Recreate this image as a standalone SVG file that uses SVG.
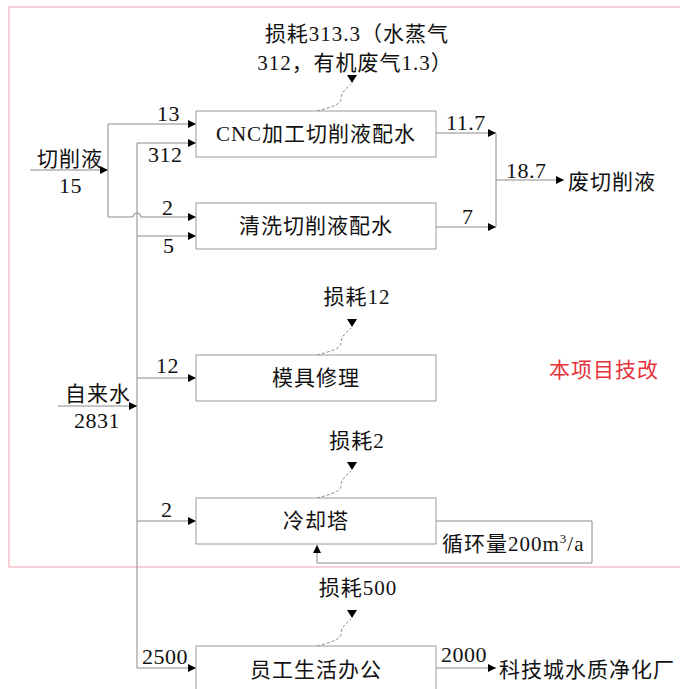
<svg xmlns="http://www.w3.org/2000/svg" width="680" height="689" viewBox="0 0 680 689">
<style>
text{font-family:"Liberation Serif","Noto Sans CJK SC",serif;font-size:21px;letter-spacing:1px;fill:#111}
.num{font-size:22px;letter-spacing:0.5px}
.box{fill:#fff;stroke:#9a9a9a;stroke-width:1}
.ln{fill:none;stroke:#8a8a8a;stroke-width:1}
.dash{fill:none;stroke:#8a8a8a;stroke-width:1;stroke-dasharray:3 2}
.mid{text-anchor:middle}
.red{fill:#e8323a}
</style>
<defs>
<marker id="ar" markerUnits="userSpaceOnUse" markerWidth="9" markerHeight="9" refX="8" refY="4" orient="auto">
<path d="M0,0 L8,4 L0,8 z" fill="#000"/>
</marker>
<g id="loss">
<path class="dash" d="M317,0 C328,-3 341,-6 341,-12 C341,-19 346,-22 351,-27"/>
<polygon points="347,-36 357,-36 352,-28" fill="#000"/>
</g>
</defs>
<rect x="9" y="7" width="690" height="560" fill="none" stroke="#f0a4b2" stroke-width="1"/>
<text class="red" x="549" y="377">本项目技改</text>

<g id="connectors">
<line class="ln" x1="30" y1="170" x2="108" y2="170" marker-end="url(#ar)"/>
<line class="ln" x1="108" y1="124" x2="108" y2="217"/>
<line class="ln" x1="108" y1="124" x2="196" y2="124" marker-end="url(#ar)"/>
<path class="ln" d="M108,217 H133 A4,4 0 0 1 141,217 H196" marker-end="url(#ar)"/>
<line class="ln" x1="137" y1="143" x2="137" y2="668"/>
<line class="ln" x1="137" y1="143" x2="196" y2="143" marker-end="url(#ar)"/>
<line class="ln" x1="137" y1="236" x2="196" y2="236" marker-end="url(#ar)"/>
<line class="ln" x1="58" y1="406" x2="137" y2="406" marker-end="url(#ar)"/>
<line class="ln" x1="137" y1="378" x2="196" y2="378" marker-end="url(#ar)"/>
<line class="ln" x1="137" y1="521" x2="196" y2="521" marker-end="url(#ar)"/>
<line class="ln" x1="137" y1="668" x2="196" y2="668" marker-end="url(#ar)"/>
<line class="ln" x1="436" y1="133" x2="496" y2="133" marker-end="url(#ar)"/>
<line class="ln" x1="436" y1="227" x2="496" y2="227" marker-end="url(#ar)"/>
<line class="ln" x1="496" y1="133" x2="496" y2="227"/>
<line class="ln" x1="496" y1="180" x2="564" y2="180" marker-end="url(#ar)"/>
<path class="ln" d="M436,521 H592 V563 H317 V545" marker-end="url(#ar)"/>
<line class="ln" x1="436" y1="668" x2="496" y2="668" marker-end="url(#ar)"/>
<use href="#loss" transform="translate(0,111)"/>
<use href="#loss" transform="translate(0,355)"/>
<use href="#loss" transform="translate(0,498)"/>
<use href="#loss" transform="translate(0,646)"/>
</g>

<g id="labels">
<text x="37" y="166">切削液</text>
<text class="num" x="59" y="193">15</text>
<text class="num" x="157" y="121">13</text>
<text class="num" x="148" y="162">312</text>
<text class="num" x="162" y="215">2</text>
<text class="num" x="163" y="253">5</text>
<text class="num" x="446" y="130">11.7</text>
<text class="num" x="462" y="224">7</text>
<text class="num" x="506" y="178">18.7</text>
<text x="65" y="401">自来水</text>
<text class="num" x="74" y="428">2831</text>
<text class="num" x="156" y="373">12</text>
<text class="num" x="161" y="517">2</text>
<text class="num" x="142" y="664">2500</text>
<text class="num" x="441" y="662">2000</text>
</g>

<g id="loss-cnc">
<text class="mid" x="357" y="41">损耗313.3（水蒸气</text>
<text class="mid" x="355" y="70">312，有机废气1.3）</text>
</g>
<g id="waste"><text x="568" y="189">废切削液</text></g>
<g id="loss-mold"><text class="mid" x="357" y="304">损耗12</text></g>
<g id="loss-cool"><text class="mid" x="357" y="448">损耗2</text></g>
<g id="loss-office"><text class="mid" x="358" y="595">损耗500</text></g>
<g id="recycle"><text x="442" y="551">循环量200m<tspan font-size="13" dy="-8">3</tspan><tspan dy="8">/a</tspan></text></g>
<g id="plant"><text x="499" y="677">科技城水质净化厂</text></g>

<g id="cnc"><rect class="box" x="196" y="111" width="240" height="46"/><text class="mid" x="316" y="141">CNC加工切削液配水</text></g>
<g id="clean"><rect class="box" x="196" y="203" width="240" height="46"/><text class="mid" x="316" y="233">清洗切削液配水</text></g>
<g id="mold"><rect class="box" x="196" y="355" width="240" height="46"/><text class="mid" x="316" y="385">模具修理</text></g>
<g id="cool"><rect class="box" x="196" y="498" width="240" height="46"/><text class="mid" x="316" y="528">冷却塔</text></g>
<g id="office"><rect class="box" x="196" y="646" width="240" height="50"/><text class="mid" x="316" y="677">员工生活办公</text></g>
</svg>
